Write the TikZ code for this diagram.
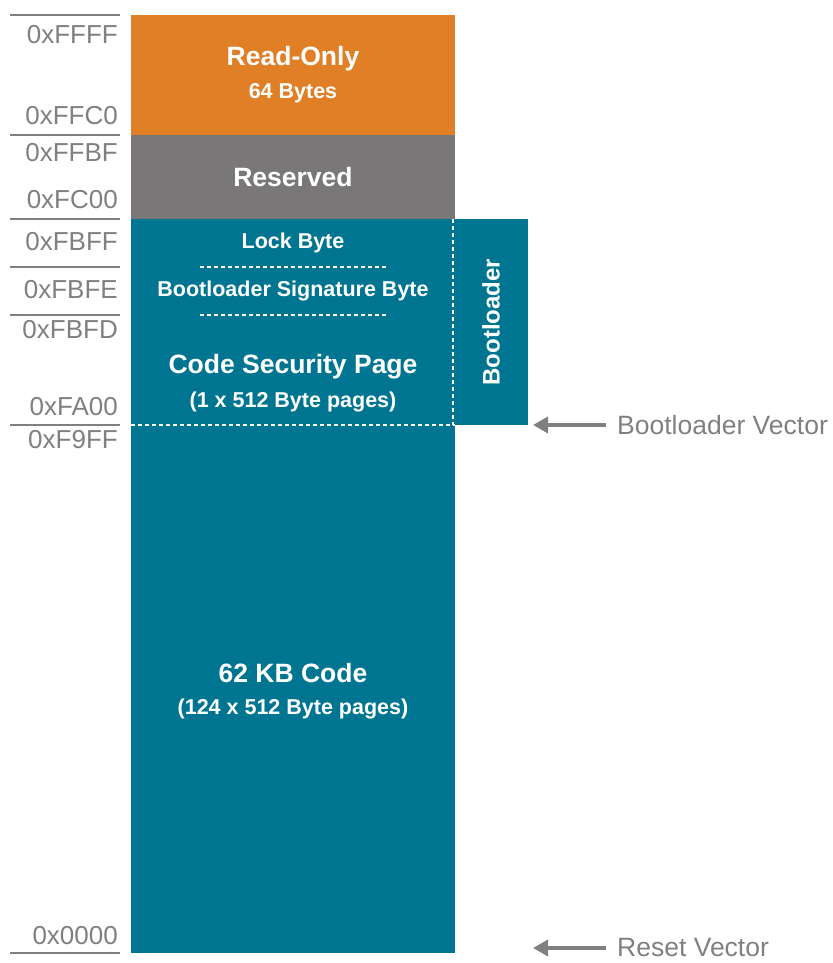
\documentclass[tikz,border=0pt]{standalone}
\usepackage{fontspec}
\setmainfont{Liberation Sans}
\usetikzlibrary{arrows.meta}
\definecolor{roorange}{HTML}{E07F26}
\definecolor{resgray}{HTML}{797778}
\definecolor{codeteal}{HTML}{007592}
\definecolor{addrgray}{HTML}{808080}

\begin{document}
\begin{tikzpicture}[x=1pt,y=-1pt,
  every node/.style={inner sep=0pt},
  addr/.style={anchor=east,color=addrgray,font=\fontsize{26}{28}\selectfont},
  sep/.style={draw=addrgray,line width=2pt},
  big/.style={color=white,font=\bfseries\fontsize{26.5}{28}\selectfont},
  small/.style={color=white,font=\bfseries\fontsize{21.5}{23}\selectfont},
  divider/.style={draw=white,line width=1.5pt,dash pattern=on 4pt off 3pt},
  vec/.style={anchor=west,color=addrgray,font=\fontsize{26.5}{28}\selectfont},
  vecarrow/.style={draw=addrgray,line width=3.5pt,-{Triangle[width=16pt,length=15pt]}}]
  \useasboundingbox (0,0) rectangle (832,963);
  \fill[roorange] (131,15) rectangle (455,135);
  \fill[resgray] (131,135) rectangle (455,219);
  \fill[codeteal] (131,219) rectangle (455,953);
  \fill[codeteal] (455,219) rectangle (528,425);
  \draw[divider] (453,219) -- (453,425);
  \draw[divider] (131,425) -- (455,425);
  \draw[divider] (200,267) -- (386,267);
  \draw[divider] (200,315) -- (386,315);
  \foreach \y in {15,135,219,267,315,425,953}
    \draw[sep] (10,\y) -- (120,\y);
  \node (a_ffff) [addr] at (118,35) {0xFFFF};
  \node (a_ffc0) [addr] at (118,116) {0xFFC0};
  \node (a_ffbf) [addr] at (118,153) {0xFFBF};
  \node (a_fc00) [addr] at (118,200) {0xFC00};
  \node (a_fbff) [addr] at (118,242) {0xFBFF};
  \node (a_fbfe) [addr] at (118,290) {0xFBFE};
  \node (a_fbfd) [addr] at (118,330) {0xFBFD};
  \node (a_fa00) [addr] at (118,407) {0xFA00};
  \node (a_f9ff) [addr] at (118,440) {0xF9FF};
  \node (a_0000) [addr] at (118,936) {0x0000};
  \node (ro) [big] at (293,59) {Read-Only};
  \node (ro_sz) [small] at (293,93) {64 Bytes};
  \node (res) [big] at (293,177) {Reserved};
  \node (lock) [small] at (293,243) {Lock Byte};
  \node (sig) [small] at (293,291) {Bootloader Signature Byte};
  \node (csp) [big] at (293,367) {Code Security Page};
  \node (csp_sz) [small] at (293,402) {(1 x 512 Byte pages)};
  \node (boot) [small,rotate=90,font=\bfseries\fontsize{24}{26}\selectfont] at (491,322) {Bootloader};
  \node (code) [big] at (293,673) {62 KB Code};
  \node (code_sz) [small] at (293,709) {(124 x 512 Byte pages)};
  \node (bv_txt) [vec] at (617,425) {Bootloader Vector};
  \node (rv_txt) [vec] at (617,948) {Reset Vector};
  \coordinate (bv) at (533,425);
  \coordinate (rv) at (533,948);
  \draw[vecarrow] ([xshift=-11pt]bv_txt.west) -- (bv);
  \draw[vecarrow] ([xshift=-11pt]rv_txt.west) -- (rv);
\end{tikzpicture}
\end{document}
